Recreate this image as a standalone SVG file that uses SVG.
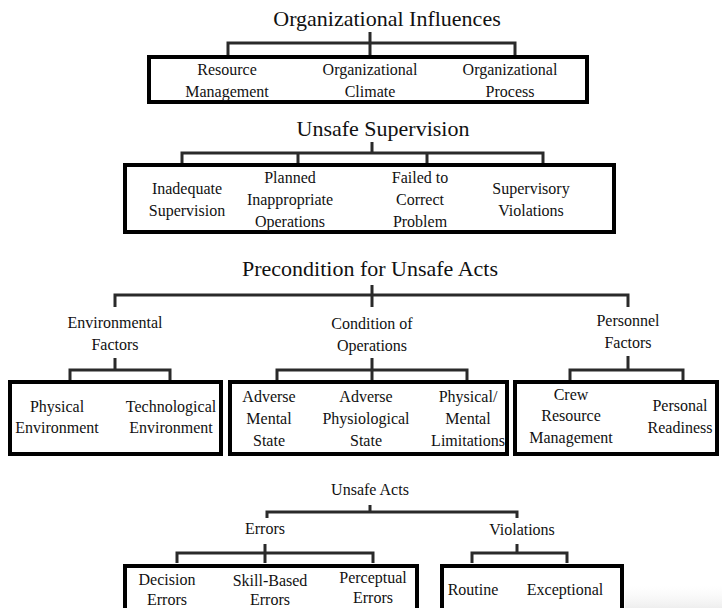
<svg xmlns="http://www.w3.org/2000/svg" width="722" height="608" viewBox="0 0 722 608">
  <defs>
    <style>
      .t { fill: #111; text-anchor: middle; }
      .title { font-size: 22px; }
      .item { font-size: 16px; }
      .box { fill: none; stroke: #000; stroke-width: 4; }
      .link { fill: none; stroke: #2a2a2a; stroke-width: 3; }
    </style>
    <linearGradient id="shade" x1="0" y1="0" x2="0" y2="1">
      <stop offset="0" stop-color="#f6f6f6" stop-opacity="0"/>
      <stop offset="1" stop-color="#eeeeee"/>
    </linearGradient>
  </defs>
  <rect width="722" height="608" fill="#fff"/>
  <rect x="625" y="586" width="97" height="22" fill="url(#shade)"/>

  <!-- connectors (tree brackets) -->
  <g id="connectors" class="link">
    <path d="M370 32 V43 M228 55 V43 H515 V55 M370 43 V55"/>
    <path d="M372 142 V153 M182 163 V153 H543 V163 M298 153 V163 M427 153 V163"/>
    <path d="M372 285 V295 M115 307 V295 H628 V307 M372 295 V307"/>
    <path d="M115 358 V370 M70 381 V370 H170 V381"/>
    <path d="M372 358 V370 M277 381 V370 H467 V381 M372 370 V381"/>
    <path d="M628 356 V370 M570 381 V370 H683 V381"/>
    <path d="M370 505 V512 M267 518 V512 H517 V518"/>
    <path d="M265 544 V553 M177 563 V553 H373 V563 M265 553 V563"/>
    <path d="M517 544 V553 M472 563 V553 H567 V563"/>
  </g>

  <!-- Organizational Influences -->
  <g id="organizational-influences">
    <text class="t title" font-family="Liberation Serif, serif" x="387" y="26">Organizational Influences</text>
    <rect class="box" x="149" y="57" width="438" height="45"/>
    <text class="t item" font-family="Liberation Serif, serif" x="227" y="75">Resource</text>
    <text class="t item" font-family="Liberation Serif, serif" x="227" y="97">Management</text>
    <text class="t item" font-family="Liberation Serif, serif" x="370" y="75">Organizational</text>
    <text class="t item" font-family="Liberation Serif, serif" x="370" y="97">Climate</text>
    <text class="t item" font-family="Liberation Serif, serif" x="510" y="75">Organizational</text>
    <text class="t item" font-family="Liberation Serif, serif" x="510" y="97">Process</text>
  </g>

  <!-- Unsafe Supervision -->
  <g id="unsafe-supervision">
    <text class="t title" font-family="Liberation Serif, serif" x="383" y="136">Unsafe Supervision</text>
    <rect class="box" x="125" y="165" width="489" height="67"/>
    <text class="t item" font-family="Liberation Serif, serif" x="187" y="194">Inadequate</text>
    <text class="t item" font-family="Liberation Serif, serif" x="187" y="216">Supervision</text>
    <text class="t item" font-family="Liberation Serif, serif" x="290" y="183">Planned</text>
    <text class="t item" font-family="Liberation Serif, serif" x="290" y="205">Inappropriate</text>
    <text class="t item" font-family="Liberation Serif, serif" x="290" y="227">Operations</text>
    <text class="t item" font-family="Liberation Serif, serif" x="420" y="183">Failed to</text>
    <text class="t item" font-family="Liberation Serif, serif" x="420" y="205">Correct</text>
    <text class="t item" font-family="Liberation Serif, serif" x="420" y="227">Problem</text>
    <text class="t item" font-family="Liberation Serif, serif" x="531" y="194">Supervisory</text>
    <text class="t item" font-family="Liberation Serif, serif" x="531" y="216">Violations</text>
  </g>

  <!-- Precondition for Unsafe Acts -->
  <g id="preconditions">
    <text class="t title" font-family="Liberation Serif, serif" x="370" y="276">Precondition for Unsafe Acts</text>
  </g>
  <g id="environmental-factors">
    <text class="t item" font-family="Liberation Serif, serif" x="115" y="328">Environmental</text>
    <text class="t item" font-family="Liberation Serif, serif" x="115" y="350">Factors</text>
    <rect class="box" x="10" y="382" width="211" height="72"/>
    <text class="t item" font-family="Liberation Serif, serif" x="57" y="412">Physical</text>
    <text class="t item" font-family="Liberation Serif, serif" x="57" y="433">Environment</text>
    <text class="t item" font-family="Liberation Serif, serif" x="171" y="412">Technological</text>
    <text class="t item" font-family="Liberation Serif, serif" x="171" y="433">Environment</text>
  </g>
  <g id="condition-of-operations">
    <text class="t item" font-family="Liberation Serif, serif" x="372" y="329">Condition of</text>
    <text class="t item" font-family="Liberation Serif, serif" x="372" y="351">Operations</text>
    <rect class="box" x="230" y="382" width="277" height="72"/>
    <text class="t item" font-family="Liberation Serif, serif" x="269" y="402">Adverse</text>
    <text class="t item" font-family="Liberation Serif, serif" x="269" y="424">Mental</text>
    <text class="t item" font-family="Liberation Serif, serif" x="269" y="446">State</text>
    <text class="t item" font-family="Liberation Serif, serif" x="366" y="402">Adverse</text>
    <text class="t item" font-family="Liberation Serif, serif" x="366" y="424">Physiological</text>
    <text class="t item" font-family="Liberation Serif, serif" x="366" y="446">State</text>
    <text class="t item" font-family="Liberation Serif, serif" x="468" y="402">Physical/</text>
    <text class="t item" font-family="Liberation Serif, serif" x="468" y="424">Mental</text>
    <text class="t item" font-family="Liberation Serif, serif" x="468" y="446">Limitations</text>
  </g>
  <g id="personnel-factors">
    <text class="t item" font-family="Liberation Serif, serif" x="628" y="326">Personnel</text>
    <text class="t item" font-family="Liberation Serif, serif" x="628" y="348">Factors</text>
    <rect class="box" x="515" y="382" width="202" height="72"/>
    <text class="t item" font-family="Liberation Serif, serif" x="571" y="400">Crew</text>
    <text class="t item" font-family="Liberation Serif, serif" x="571" y="421">Resource</text>
    <text class="t item" font-family="Liberation Serif, serif" x="571" y="443">Management</text>
    <text class="t item" font-family="Liberation Serif, serif" x="680" y="411">Personal</text>
    <text class="t item" font-family="Liberation Serif, serif" x="680" y="433">Readiness</text>
  </g>

  <!-- Unsafe Acts -->
  <g id="unsafe-acts">
    <text class="t item" font-family="Liberation Serif, serif" x="370" y="495">Unsafe Acts</text>
  </g>
  <g id="errors">
    <text class="t item" font-family="Liberation Serif, serif" x="265" y="534">Errors</text>
    <rect class="box" x="125" y="566" width="292" height="60"/>
    <text class="t item" font-family="Liberation Serif, serif" x="167" y="585">Decision</text>
    <text class="t item" font-family="Liberation Serif, serif" x="167" y="605">Errors</text>
    <text class="t item" font-family="Liberation Serif, serif" x="270" y="586">Skill-Based</text>
    <text class="t item" font-family="Liberation Serif, serif" x="270" y="605">Errors</text>
    <text class="t item" font-family="Liberation Serif, serif" x="373" y="583">Perceptual</text>
    <text class="t item" font-family="Liberation Serif, serif" x="373" y="603">Errors</text>
  </g>
  <g id="violations">
    <text class="t item" font-family="Liberation Serif, serif" x="522" y="535">Violations</text>
    <rect class="box" x="442" y="566" width="180" height="60"/>
    <text class="t item" font-family="Liberation Serif, serif" x="473" y="595">Routine</text>
    <text class="t item" font-family="Liberation Serif, serif" x="565" y="595">Exceptional</text>
  </g>
</svg>
